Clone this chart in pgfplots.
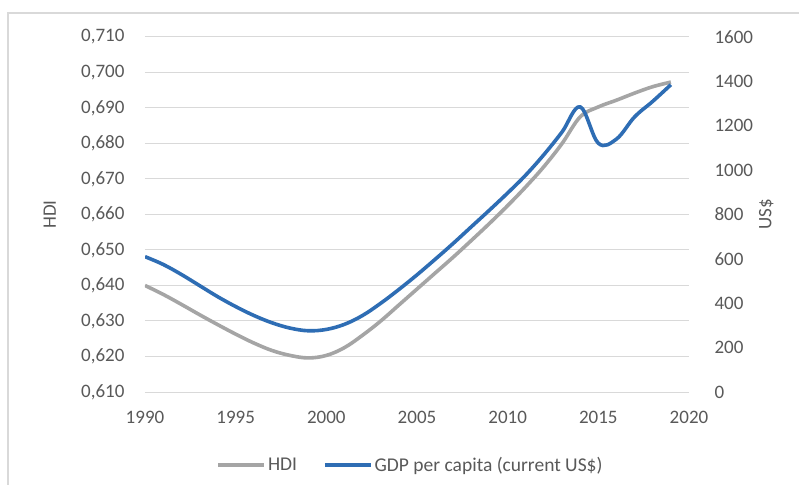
\documentclass[border=0pt]{standalone}
\usepackage{pgfplots}
\pgfplotsset{compat=1.18}
\usepackage{fontspec}
\setmainfont{Carlito}
\definecolor{gridc}{HTML}{D9D9D9}
\definecolor{framec}{HTML}{D9D9D9}
\definecolor{tickc}{HTML}{595959}
\definecolor{hdic}{HTML}{A5A5A5}
\definecolor{gdpc}{HTML}{2E6DB4}
\begin{document}
\begin{tikzpicture}
\fill[white] (-145bp,-93bp) rectangle (654bp,392bp);
\draw[framec, line width=1.2bp] (-137bp,-93bp) -- (-137bp,379bp) -- (654bp,379bp);
\pgfplotsset{
 base/.style={
  scale only axis, width=544bp, height=355bp,
  xmin=1990, xmax=2020,
  axis line style={draw=none}, major tick length=0pt,
  ticklabel style={font=\fontsize{19bp}{21bp}\selectfont, text=tickc},
  label style={font=\fontsize{19bp}{21bp}\selectfont, text=tickc},
  /pgf/number format/assume math mode=true,
  xtick={1990,1995,2000,2005,2010,2015,2020},
  xticklabel style={/pgf/number format/1000 sep={}, yshift=-16bp},
 }
}
\begin{axis}[base,
  ymin=0.61, ymax=0.71,
  ytick={0.61,0.62,0.63,0.64,0.65,0.66,0.67,0.68,0.69,0.70,0.71},
  yticklabel style={/pgf/number format/fixed, /pgf/number format/fixed zerofill, /pgf/number format/precision=3, /pgf/number format/use comma, xshift=-17bp},
  ymajorgrids, grid style={gridc, line width=1bp},
  ylabel={HDI},
  ylabel style={at={(axis description cs:-0.175,0.5)}, anchor=center},
]
\addplot[hdic, line width=3.6bp, smooth, tension=0.6] coordinates {
(1990,0.6400) (1991,0.6375) (1992,0.6347) (1993,0.6318) (1994,0.6290)
(1995,0.6263) (1996,0.6238) (1997,0.6217) (1998,0.6203) (1999,0.6196)
(2000,0.6203) (2001,0.6225) (2002,0.6260) (2003,0.6300) (2004,0.6345)
(2005,0.6390) (2006,0.6435) (2007,0.6480) (2008,0.6527) (2009,0.6575)
(2010,0.6625) (2011,0.6678) (2012,0.6735) (2013,0.6800) (2014,0.6875)
(2015,0.6903) (2016,0.6922) (2017,0.6942) (2018,0.6960) (2019,0.6973)
};
\end{axis}
\begin{axis}[base,
  ymin=0, ymax=1600,
  ytick={0,200,400,600,800,1000,1200,1400,1600},
  yticklabel pos=right,
  yticklabel style={/pgf/number format/1000 sep={}, xshift=22bp},
  xticklabels={},
  ylabel={US\$},
  ylabel style={at={(axis description cs:1.142,0.5)}, anchor=center},
  legend style={at={(axis description cs:0.488,-0.206)}, anchor=center, draw=none, fill=none,
    legend columns=2, font=\fontsize{19.5bp}{21bp}\selectfont, text=tickc,
    /tikz/every even column/.append style={column sep=24bp}},
  legend image code/.code={\draw[#1] (0bp,0bp) -- (46bp,0bp);},
]
\addlegendimage{hdic, line width=3.6bp}
\addlegendentry{HDI}
\addplot[gdpc, line width=3.6bp, smooth, tension=0.6] coordinates {
(1990,610) (1991,575) (1992,530) (1993,480) (1994,430)
(1995,385) (1996,345) (1997,312) (1998,288) (1999,276)
(2000,282) (2001,305) (2002,345) (2003,400) (2004,462)
(2005,528) (2006,598) (2007,670) (2008,745) (2009,820)
(2010,897) (2011,978) (2012,1070) (2013,1172) (2014,1285)
(2015,1121) (2016,1140) (2017,1240) (2018,1310) (2019,1385)
};
\addlegendentry{GDP per capita (current US\$)}
\end{axis}
\pgfresetboundingbox
\useasboundingbox (-145bp,-93bp) rectangle (654bp,392bp);
\end{tikzpicture}
\end{document}
